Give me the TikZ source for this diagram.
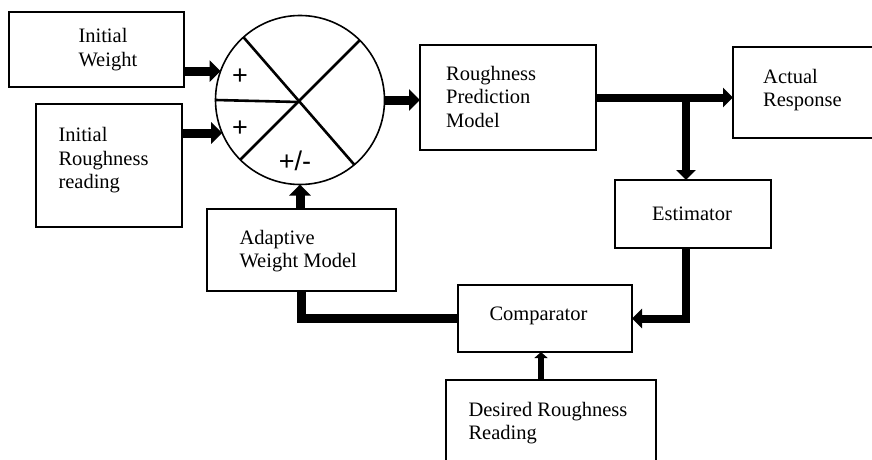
\documentclass[tikz,border=0pt]{standalone}
\usepackage{fontspec}
\setmainfont{Liberation Serif}
\newfontfamily\signfont{Liberation Sans}
\usetikzlibrary{arrows.meta}
\begin{document}
\begin{tikzpicture}[x=1pt,y=-1pt,
  box/.style={draw, line width=1.6pt, inner sep=0pt, outer sep=0pt},
  txt/.style={font=\fontsize{20.5}{23.3}\selectfont, align=left, inner sep=0pt, anchor=west},
  sign/.style={font=\signfont\fontsize{27}{30}\selectfont, inner sep=0pt},
  bigarrow/.style={line width=9pt, -{Triangle[width=21pt,length=11pt]}},
  midarrow/.style={line width=8pt, -{Triangle[width=19pt,length=10pt]}},
  smallarrow/.style={line width=6pt, -{Triangle[width=13pt,length=6pt]}},
  thickline/.style={line width=9pt, line join=miter},
  cross/.style={line width=2.6pt}]
\useasboundingbox (0,0) rectangle (872,460);
\clip (0,0) rectangle (872,460);
\fill[white] (0,0) rectangle (872,460);

% boxes
\node[box, minimum width=175pt, minimum height=75pt] (iw) at (96.5,49.5) {};
\node[box, minimum width=146pt, minimum height=123pt] (ir) at (109,165.5) {};
\node[box, minimum width=176pt, minimum height=105pt] (rpm) at (508,97.5) {};
\node[box, minimum width=170pt, minimum height=91pt] (ar) at (818,92.5) {};
\node[box, minimum width=156pt, minimum height=68pt] (est) at (693,214) {};
\node[box, minimum width=189pt, minimum height=82pt] (awm) at (301.5,250) {};
\node[box, minimum width=174pt, minimum height=67pt] (cmp) at (545,318.5) {};
\node[box, minimum width=210pt, minimum height=110pt] (drr) at (551,435) {};

% texts
\node[txt] (iwt) at (78.3,49.5) {Initial\\Weight};
\node[txt] (irt) at (58.3,160.3) {Initial\\Roughness\\reading};
\node[txt] (rpmt) at (446,96.7) {Roughness\\Prediction\\Model};
\node[txt] (art) at (763,90) {Actual\\Response};
\node[txt] (estt) at (652,213.7) {Estimator};
\node[txt] (awmt) at (239.3,251) {Adaptive\\Weight Model};
\node[txt] (cmpt) at (489.3,316.3) {Comparator};
\node[txt] (drrt) at (468.3,423) {Desired Roughness\\Reading};

% summing junction
\node[draw, circle, line width=1.6pt, minimum size=169pt, inner sep=0pt, outer sep=0pt] (c) at (300,100) {};
\draw[cross] (c.132.5) -- (c.310.7);
\draw[cross] (c.45.5) -- (c.225.5);
\coordinate (cx) at (298.5,102);
\draw[cross] (c.180) -- (cx);
\node[sign] (p1) at (240,76.3) {+};
\node[sign] (p2) at (240,128.3) {+};
\node[sign] (p3) at (295,161) {+/-};

% connectors
\draw[bigarrow] (iw.east |- c.160) -- (c.160);
\draw[bigarrow] (ir.east |- c.203) -- (c.203);
\draw[bigarrow] (c.east) -- (rpm.west |- c.east);
\draw[midarrow] (rpm.east) -- (ar.west |- rpm.east);
\coordinate (br) at (686,96);
\draw[midarrow] (br) -- (est.north -| br);
\draw[midarrow] (est.south -| br) |- (cmp.east);
\draw[thickline] (cmp.west) -| (awm.south);
\draw[bigarrow] (awm.north -| c.south) -- (c.south);
\draw[smallarrow] (drr.north -| 541,0) -- (cmp.south -| 541,0);
\end{tikzpicture}
\end{document}
